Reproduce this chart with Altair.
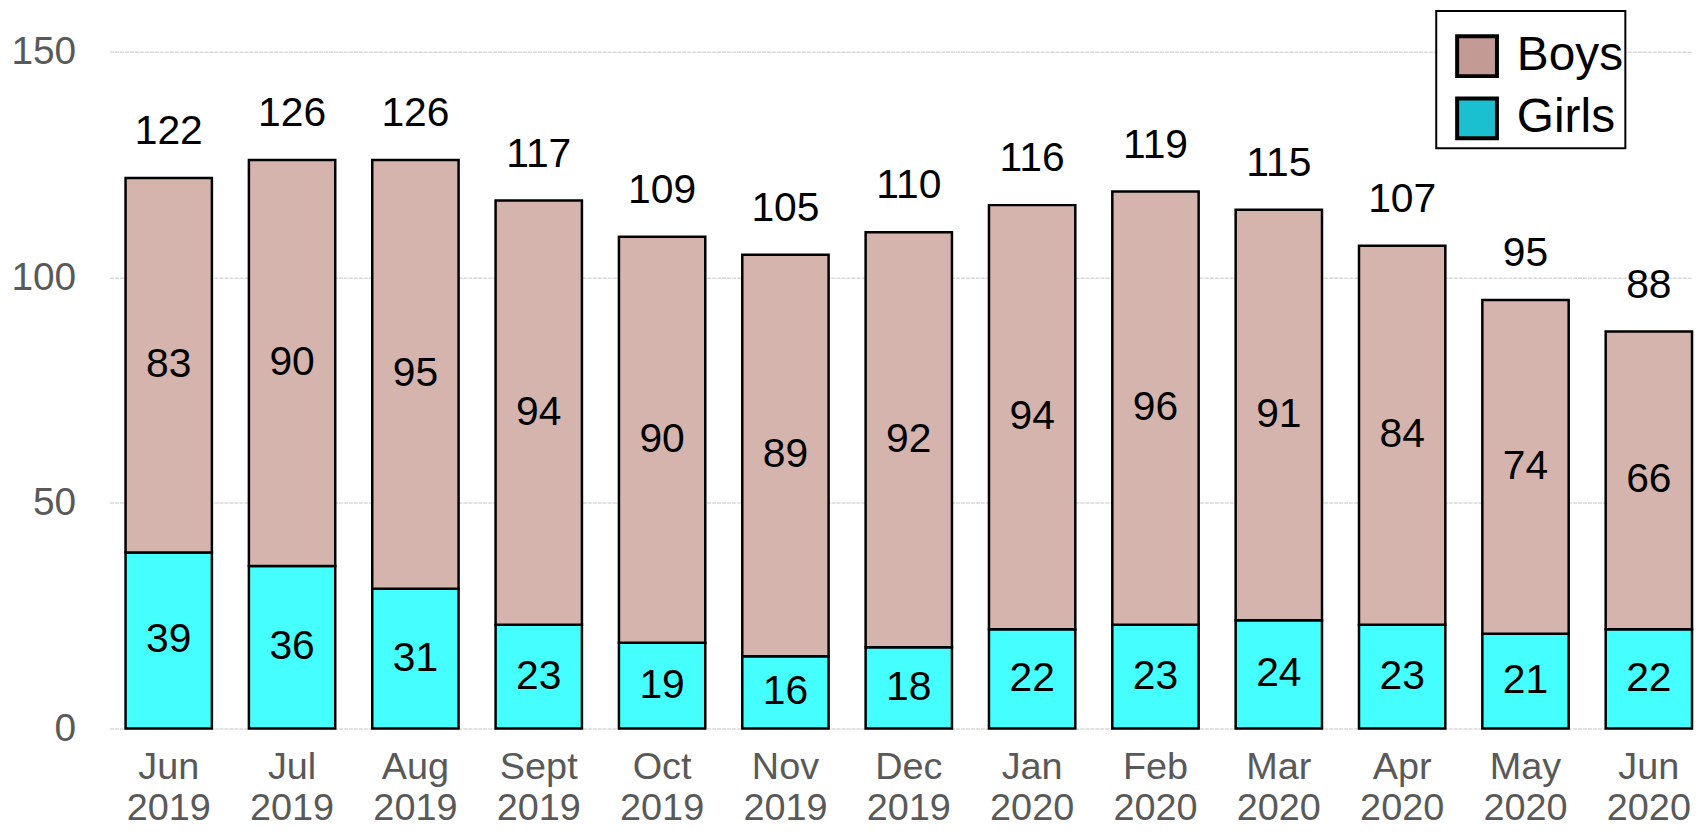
import altair as alt
import pandas as pd

months = ["Jun 2019", "Jul 2019", "Aug 2019", "Sept 2019", "Oct 2019", "Nov 2019",
          "Dec 2019", "Jan 2020", "Feb 2020", "Mar 2020", "Apr 2020", "May 2020", "Jun 2020"]
boys = [83, 90, 95, 94, 90, 89, 92, 94, 96, 91, 84, 74, 66]
girls = [39, 36, 31, 23, 19, 16, 18, 22, 23, 24, 23, 21, 22]
sexes = ["Boys", "Girls"]
bar_colors = ["#D5B4AE", "#45FFFF"]
legend_colors = ["#C49A94", "#1ABFD0"]

rows = []
for m, b, g in zip(months, boys, girls):
    rows.append({"month": m, "sex": "Girls", "value": g, "ord": 0, "mid": g / 2,
                 "barcolor": bar_colors[1]})
    rows.append({"month": m, "sex": "Boys", "value": b, "ord": 1, "mid": g + b / 2,
                 "barcolor": bar_colors[0]})
df = pd.DataFrame(rows)
tot = pd.DataFrame({"month": months, "total": [b + g for b, g in zip(boys, girls)]})

FONT = "Liberation Sans"

xscale = alt.Scale(paddingInner=0.3, paddingOuter=0.065, align=1)
# plot area reaches the top edge; gridlines stop at 150
yscale = alt.Scale(domain=[0, 159.26], nice=False, zero=True)

xenc = alt.X("month:N", sort=months, scale=xscale, title=None,
             axis=alt.Axis(labelAngle=0, labelExpr="split(datum.label, ' ')",
                           labelFontSize=38, labelLineHeight=41, labelPadding=20,
                           labelColor="#595959", labelFont=FONT, ticks=False,
                           domain=False, grid=False))

bars = alt.Chart(df).mark_bar(stroke="black", strokeWidth=2.5, opacity=1).encode(
    x=xenc,
    y=alt.Y("value:Q", stack="zero", scale=yscale, title=None,
            axis=alt.Axis(values=[0, 50, 100, 150], labelFontSize=39, labelPadding=34,
                          labelColor="#595959", labelFont=FONT, ticks=False, domain=False,
                          gridColor="#d9d9d9", gridWidth=1.5, gridDash=[4, 1])),
    fill=alt.Fill("barcolor:N", scale=None),
    order=alt.Order("ord:Q"),
)

# legend-only layer (zero-size marks)
legend_layer = alt.Chart(df).mark_square(filled=True, size=0, opacity=1).encode(
    x=alt.X("month:N", sort=months, scale=xscale),
    y=alt.Y("mid:Q", scale=yscale),
    color=alt.Color("sex:N", scale=alt.Scale(domain=sexes, range=legend_colors),
                    legend=alt.Legend(
                        title="\u00a0" * 48, orient="none", legendX=1333, legendY=1,
                        titleFontSize=16, titleFont=FONT, titleColor="black", titleFontWeight="normal",
                        titlePadding=3.5, titleLimit=1000, padding=2,
                        labelFontSize=48, labelFont=FONT, labelColor="black", labelOffset=16,
                        symbolType="square", symbolSize=1600, symbolStrokeWidth=4,
                        symbolOffset=15,
                        symbolStrokeColor="black", rowPadding=6.5,
                        strokeColor="black", fillColor="white")),
)

seg_text = alt.Chart(df).mark_text(font=FONT, fontSize=41, color="black", baseline="middle").encode(
    x=alt.X("month:N", sort=months, scale=xscale),
    y=alt.Y("mid:Q", scale=yscale),
    text=alt.Text("value:Q"),
)

tot_text = alt.Chart(tot).mark_text(font=FONT, fontSize=41, color="black",
                                     baseline="alphabetic", dy=-34).encode(
    x=alt.X("month:N", sort=months, scale=xscale),
    y=alt.Y("total:Q", scale=yscale),
    text=alt.Text("total:Q"),
)

chart = alt.layer(bars, legend_layer, seg_text, tot_text).properties(
    width=1590, height=722,
    autosize=alt.AutoSizeParams(type="none"),
    padding={"left": 102, "top": 0, "right": 6, "bottom": 100},
).configure_view(stroke=None).configure_legend(cornerRadius=0, strokeWidth=2)

chart.save("out.html", embed_options={"renderer": "svg", "actions": False})
